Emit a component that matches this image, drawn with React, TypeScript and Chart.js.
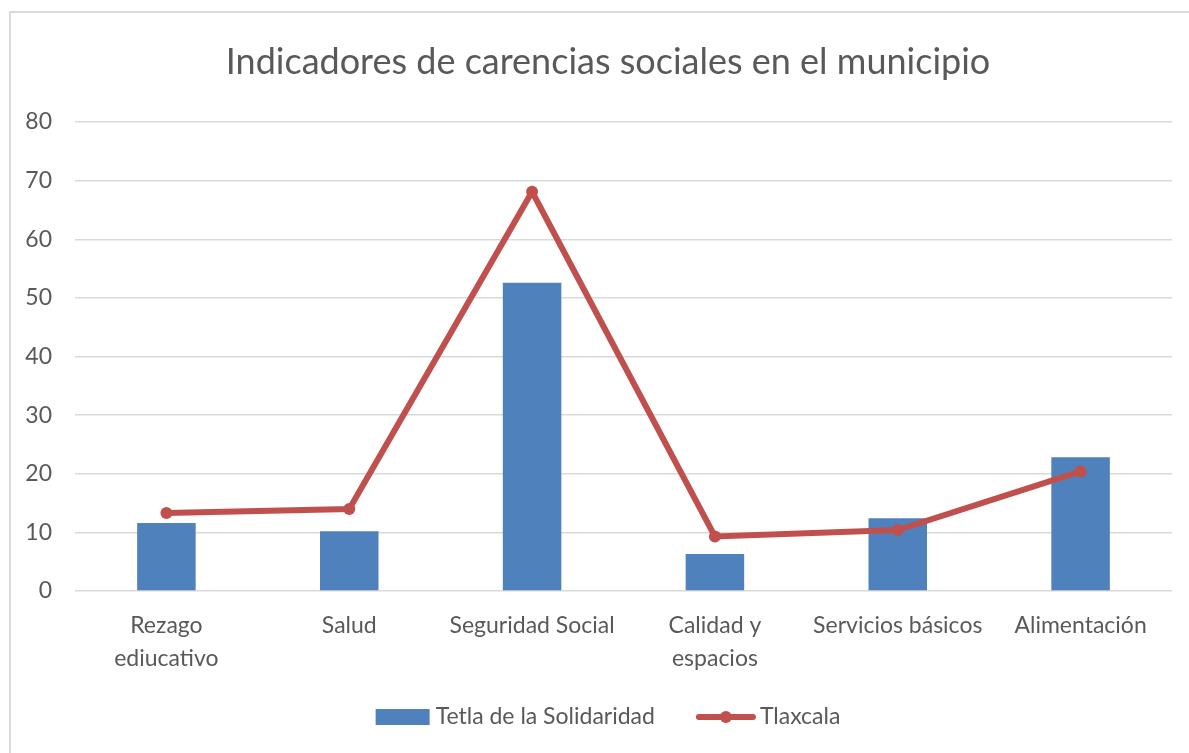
import React, { useEffect, useRef } from "react";
import { Chart, registerables } from "chart.js";

Chart.register(...registerables);

const chartTitle = "Indicadores de carencias sociales en el municipio";
const categories: (string | string[])[] = [
  ["Rezago", "ediucativo"],
  "Salud",
  "Seguridad Social",
  ["Calidad y", "espacios"],
  "Servicios básicos",
  "Alimentación",
];
const seriesNames = ["Tetla de la Solidaridad", "Tlaxcala"];
const tetlaValues = [11.6, 10.2, 52.6, 6.3, 12.4, 22.8];
const tlaxcalaValues = [13.3, 14.0, 68.1, 9.3, 10.4, 20.4];
const yMin = 0;
const yMax = 80;
const yStep = 10;

const BLUE = "#4F81BD";
const RED = "#C0504D";
const TEXT = "#595959";
const GRID = "#D9D9D9";
const FONT = "Lato";

const titlePlugin = {
  id: "centeredTitle",
  afterDraw(chart: any) {
    const ctx = chart.ctx;
    ctx.save();
    ctx.font = `36px ${FONT}`;
    ctx.fillStyle = TEXT;
    ctx.textAlign = "center";
    ctx.textBaseline = "middle";
    ctx.fillText(chartTitle, chart.width / 2, chart.chartArea.top - 60);
    ctx.restore();
  },
};

const legendPlugin = {
  id: "customLegend",
  afterDraw(chart: any) {
    const ctx = chart.ctx;
    const ds = chart.data.datasets;
    ctx.save();
    ctx.font = `23px ${FONT}`;
    ctx.fillStyle = TEXT;
    ctx.textBaseline = "middle";
    ctx.textAlign = "left";
    const w1 = ctx.measureText(ds[0].label).width;
    const w2 = ctx.measureText(ds[1].label).width;
    const total = 54 + 6 + w1 + 41 + 60 + 4 + w2;
    let x = chart.width / 2 - total / 2;
    const y = chart.chartArea.bottom + 126;
    ctx.fillStyle = ds[0].backgroundColor;
    ctx.fillRect(x, y - 8, 54, 16);
    x += 60;
    ctx.fillStyle = TEXT;
    ctx.fillText(ds[0].label, x, y);
    x += w1 + 41;
    ctx.strokeStyle = ds[1].borderColor;
    ctx.lineWidth = 6;
    ctx.lineCap = "round";
    ctx.beginPath();
    ctx.moveTo(x + 3, y);
    ctx.lineTo(x + 57, y);
    ctx.stroke();
    ctx.fillStyle = ds[1].borderColor;
    ctx.beginPath();
    ctx.arc(x + 30, y, 6, 0, Math.PI * 2);
    ctx.fill();
    x += 64;
    ctx.fillStyle = TEXT;
    ctx.fillText(ds[1].label, x, y);
    ctx.restore();
  },
};

export default function App() {
  const ref = useRef<HTMLCanvasElement | null>(null);
  useEffect(() => {
    if (!ref.current) return;
    const chart = new Chart(ref.current, {
      type: "bar",
      data: {
        labels: categories,
        datasets: [
          {
            type: "bar",
            label: seriesNames[0],
            data: tetlaValues,
            backgroundColor: BLUE,
            borderColor: BLUE,
            borderWidth: 0,
            barPercentage: 0.32,
            categoryPercentage: 1,
            order: 1,
          },
          {
            type: "line",
            label: seriesNames[1],
            data: tlaxcalaValues,
            borderColor: RED,
            backgroundColor: RED,
            borderWidth: 6,
            pointRadius: 6,
            pointBackgroundColor: RED,
            pointBorderWidth: 0,
            tension: 0,
            order: 0,
          },
        ] as any,
      },
      options: {
        responsive: false,
        animation: false,
        layout: { padding: { left: 0, right: 33, top: 109, bottom: 102 } },
        plugins: {
          legend: { display: false },
          tooltip: { enabled: false },
          title: { display: false },
        },
        scales: {
          x: {
            grid: { display: false },
            border: { display: false },
            ticks: {
              color: TEXT,
              font: { family: FONT, size: 23, lineHeight: 1.435 },
              padding: 10,
              maxRotation: 0,
              autoSkip: false,
            },
            afterFit: (s: any) => {
              s.height = 100;
            },
          },
          y: {
            min: yMin,
            max: yMax,
            grid: { color: GRID, lineWidth: 1.5, drawTicks: false },
            border: { display: false },
            ticks: {
              stepSize: yStep,
              color: TEXT,
              font: { family: FONT, size: 23 },
              padding: 23,
            },
            afterFit: (s: any) => {
              s.width = 64;
            },
          },
        },
      },
      plugins: [titlePlugin, legendPlugin],
    });
    return () => chart.destroy();
  }, []);
  return (
    <div style={{ position: "fixed", inset: 0, overflow: "hidden", background: "#fff" }}>
      <div
        style={{
          position: "absolute",
          left: 9,
          top: 11,
          width: 1194,
          height: 780,
          border: "2px solid #D9D9D9",
        }}
      >
        <canvas ref={ref} width={1194} height={780} style={{ display: "block" }} />
      </div>
    </div>
  );
}
